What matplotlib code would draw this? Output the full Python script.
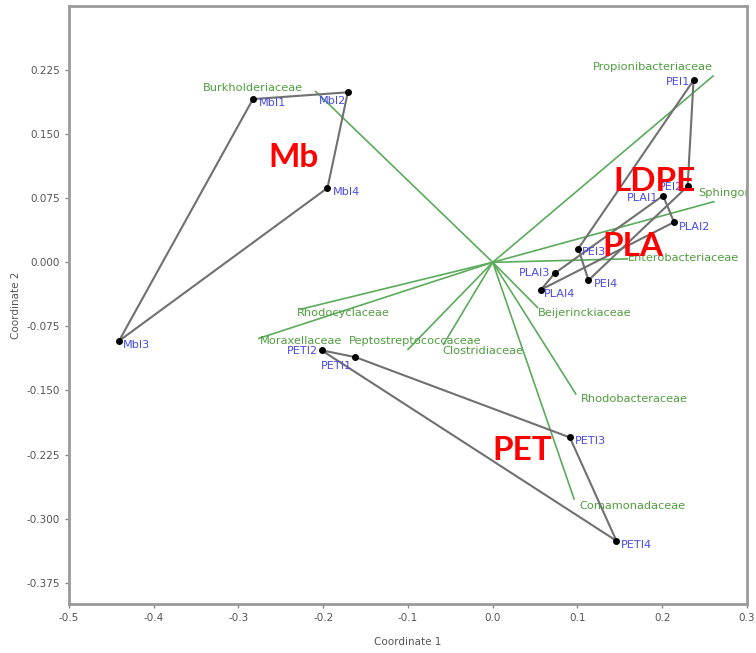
import matplotlib
matplotlib.use("Agg")
import matplotlib.pyplot as plt
from matplotlib.ticker import FixedLocator, FormatStrFormatter
from matplotlib.transforms import offset_copy

# Sample scores on the first two coordinates, grouped by substrate
mb_names = ["MbI1", "MbI2", "MbI3", "MbI4"]
mb_x = [-0.283, -0.171, -0.441, -0.195]
mb_y = [0.191, 0.199, -0.092, 0.087]

ldpe_names = ["PEI1", "PEI2", "PEI3", "PEI4"]
ldpe_x = [0.237, 0.230, 0.101, 0.113]
ldpe_y = [0.213, 0.089, 0.016, -0.021]

pla_names = ["PLAI1", "PLAI2", "PLAI3", "PLAI4"]
pla_x = [0.201, 0.214, 0.073, 0.057]
pla_y = [0.078, 0.047, -0.013, -0.032]

pet_names = ["PETI1", "PETI2", "PETI3", "PETI4"]
pet_x = [-0.162, -0.202, 0.091, 0.146]
pet_y = [-0.111, -0.103, -0.205, -0.326]

# Family loadings (biplot vectors from the origin)
taxa = ["Burkholderiaceae", "Propionibacteriaceae", "Sphingomonadaceae",
        "Enterobacteriaceae", "Rhodocyclaceae", "Moraxellaceae",
        "Peptostreptococcaceae", "Clostridiaceae", "Beijerinckiaceae",
        "Rhodobacteraceae", "Comamonadaceae"]
taxa_x = [-0.209, 0.260, 0.261, 0.159, -0.227, -0.276, -0.100, -0.058,
          0.053, 0.098, 0.096]
taxa_y = [0.200, 0.218, 0.071, 0.004, -0.055, -0.089, -0.102, -0.096,
          -0.053, -0.154, -0.277]

x_ticks = [-0.5, -0.4, -0.3, -0.2, -0.1, 0.0, 0.1, 0.2, 0.3]
y_ticks = [-0.375, -0.300, -0.225, -0.150, -0.075, 0.000, 0.075, 0.150, 0.225]

# label placement: (dx, dy) in pixels, horizontal alignment
taxa_offsets = [(-13, 3, "right"), (0, 9, "right"), (-16, 9, "left"),
                (0, 1, "left"), (-3, -4, "left"), (1, -3, "left"),
                (-59, 8, "left"), (-1, -7, "left"), (0, -5, "left"),
                (5, -5, "left"), (5, -7, "left")]
mb_offsets = [(6, -4, "left"), (-2, -9, "right"), (4, -4, "left"), (5, -4, "left")]
ldpe_offsets = [(-3, -2, "right"), (-4, -1, "right"), (4, -3, "left"), (5, -4, "left")]
pla_offsets = [(-5, -2, "right"), (5, -5, "left"), (-4, 0, "right"), (3, -4, "left")]
pet_offsets = [(-3, -9, "right"), (-4, -1, "right"), (5, -4, "left"), (4, -4, "left")]

green = "#5aab5a"
green_text = "#4f9e3f"
blue = "#4a4ae6"
hull_grey = "#707070"

fig = plt.figure(figsize=(7.56, 6.53), dpi=100)
ax = fig.add_axes([0.0913, 0.075, 0.8967, 0.9158])
ax.set_xlim(-0.5, 0.3)
ax.set_ylim(-0.4, 0.3)


def shifted(dx, dy):
    return offset_copy(ax.transData, fig=fig, x=dx, y=dy, units="dots")


# biplot vectors
for name, tx, ty, (dx, dy, ha) in zip(taxa, taxa_x, taxa_y, taxa_offsets):
    ax.plot([0, tx], [0, ty], color=green, lw=1.2, zorder=1)
    t = ax.text(tx, ty, name, transform=shifted(dx, dy), ha=ha, va="center",
                fontsize=8.2, color=green_text, zorder=2)
    t.set_clip_on(True)
    t.set_clip_box(ax.bbox)


def hull(xs, ys):
    pts = sorted(zip(xs, ys))

    def cross(o, a, b):
        return (a[0] - o[0]) * (b[1] - o[1]) - (a[1] - o[1]) * (b[0] - o[0])

    lower, upper = [], []
    for p in pts:
        while len(lower) >= 2 and cross(lower[-2], lower[-1], p) <= 0:
            lower.pop()
        lower.append(p)
    for p in reversed(pts):
        while len(upper) >= 2 and cross(upper[-2], upper[-1], p) <= 0:
            upper.pop()
        upper.append(p)
    ring = lower[:-1] + upper[:-1]
    ring.append(ring[0])
    return [p[0] for p in ring], [p[1] for p in ring]


groups = [(mb_names, mb_x, mb_y, mb_offsets),
          (ldpe_names, ldpe_x, ldpe_y, ldpe_offsets),
          (pla_names, pla_x, pla_y, pla_offsets),
          (pet_names, pet_x, pet_y, pet_offsets)]

for names, xs, ys, offs in groups:
    hx, hy = hull(xs, ys)
    ax.plot(hx, hy, color=hull_grey, lw=1.5, zorder=3)
    ax.scatter(xs, ys, s=16, color="black", zorder=4)
    for n, px, py, (dx, dy, ha) in zip(names, xs, ys, offs):
        ax.text(px, py, n, transform=shifted(dx, dy), ha=ha, va="center",
                fontsize=8.1, color=blue, zorder=5)

# group captions
cap = dict(color="red", fontsize=24, fontweight="bold", family="Lato",
           ha="center", va="center", zorder=6)
ax.text(-0.235, 0.123, "Mb", **cap)
ax.text(0.191, 0.094, "LDPE", **cap)
ax.text(0.165, 0.019, "PLA", **cap)
ax.text(0.035, -0.220, "PET", **cap)

# axes styling
for s in ax.spines.values():
    s.set_color("#9a9a9a")
    s.set_linewidth(2)
ax.xaxis.set_major_locator(FixedLocator(x_ticks))
ax.yaxis.set_major_locator(FixedLocator(y_ticks))
ax.xaxis.set_major_formatter(FormatStrFormatter("%.1f"))
ax.yaxis.set_major_formatter(FormatStrFormatter("%.3f"))
ax.tick_params(direction="out", length=3, width=1, color="#8a8a8a",
               labelsize=7.5, labelcolor="#555555")
ax.set_xlabel("Coordinate 1", fontsize=7.5, color="#555555", labelpad=10)
ax.set_ylabel("Coordinate 2", fontsize=7.5, color="#555555", labelpad=4)

fig.savefig("out.png", dpi=100)
